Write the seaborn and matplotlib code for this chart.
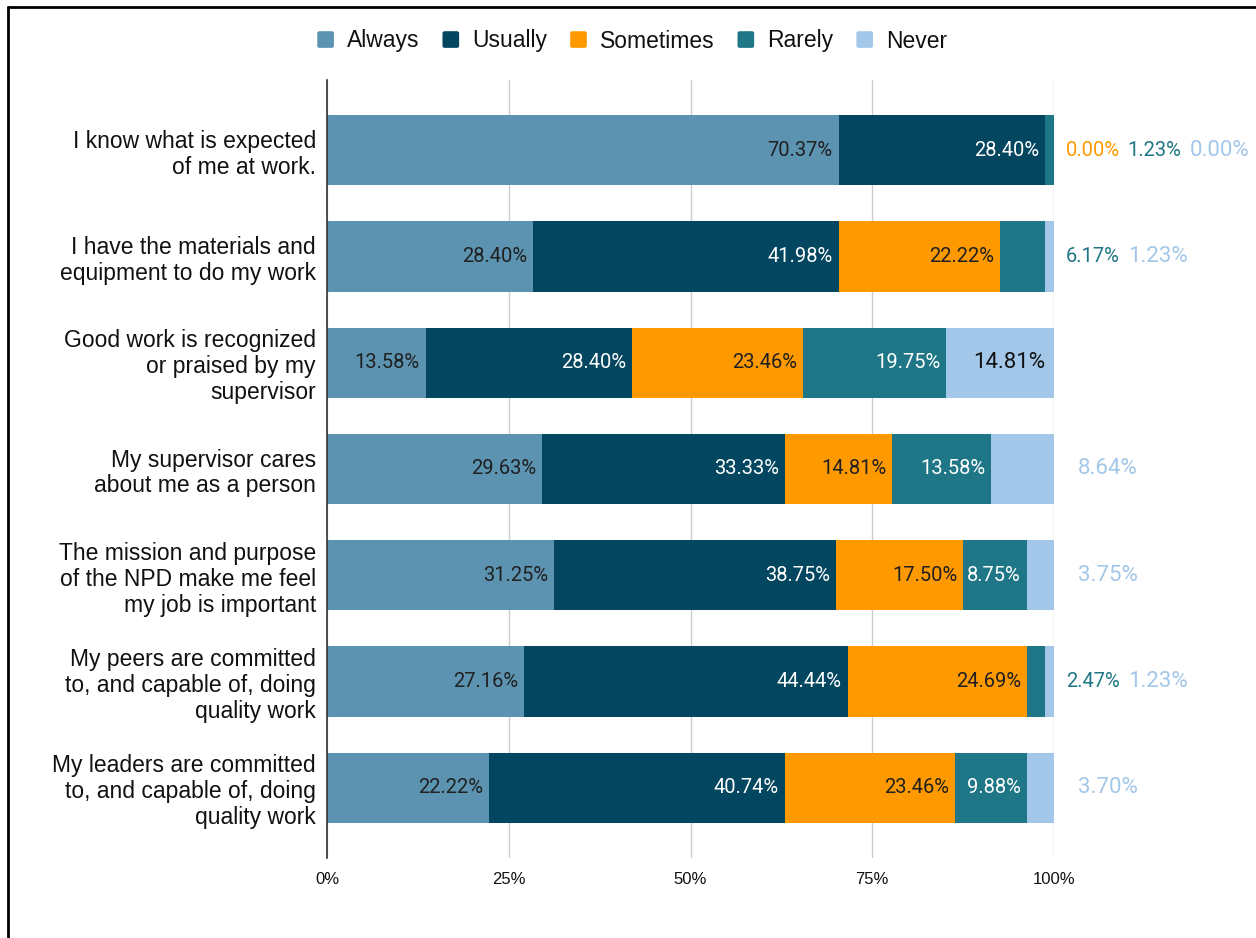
import numpy as np
import pandas as pd
import matplotlib
matplotlib.use("Agg")
import matplotlib.pyplot as plt
from matplotlib.patches import FancyBboxPatch
from matplotlib.lines import Line2D
from matplotlib.legend_handler import HandlerPatch
import seaborn as sns

# ---- survey data (percent of respondents) ----
questions = [
    "I know what is expected\nof me at work.",
    "I have the materials and\nequipment to do my work",
    "Good work is recognized\nor praised by my\nsupervisor",
    "My supervisor cares\nabout me as a person",
    "The mission and purpose\nof the NPD make me feel\nmy job is important",
    "My peers are committed\nto, and capable of, doing\nquality work",
    "My leaders are committed\nto, and capable of, doing\nquality work",
]
responses = ["Always", "Usually", "Sometimes", "Rarely", "Never"]
always = [70.37, 28.40, 13.58, 29.63, 31.25, 27.16, 22.22]
usually = [28.40, 41.98, 28.40, 33.33, 38.75, 44.44, 40.74]
sometimes = [0.00, 22.22, 23.46, 14.81, 17.50, 24.69, 23.46]
rarely = [1.23, 6.17, 19.75, 13.58, 8.75, 2.47, 9.88]
never = [0.00, 1.23, 14.81, 8.64, 3.75, 1.23, 3.70]
tick_values = [0, 25, 50, 75, 100]
tick_labels = ["0%", "25%", "50%", "75%", "100%"]

colors = ["#5b93b1", "#03465f", "#ff9900", "#1e7686", "#a3c7e9"]
inner_text = ["#202020", "white", "#202020", "white", "#111111"]

sns.set_style("white")
plt.rcParams["font.family"] = ["Liberation Sans", "DejaVu Sans"]
plt.rcParams["text.color"] = "#111111"
plt.rcParams["xtick.color"] = "#111111"
plt.rcParams["ytick.color"] = "#111111"

fig = plt.figure(figsize=(12.56, 9.38), dpi=100)
ax = fig.add_axes([327 / 1256, 1 - 858 / 938, 727 / 1256, 778 / 938])

vals = np.array([always, usually, sometimes, rarely, never])
cum = np.cumsum(vals, axis=0)
ends = np.minimum(cum, 100.0)

# stacked bars: draw each cumulative total, widest first
for k in range(len(responses) - 1, -1, -1):
    df = pd.DataFrame({"question": questions, "value": ends[k]})
    sns.barplot(data=df, x="value", y="question", orient="h", color=colors[k],
                saturation=1, width=0.66, errorbar=None, linewidth=0, ax=ax)

ax.set_xlim(0, 100)
ax.set_ylim(6.66, -0.66)
ax.set_xlabel("")
ax.set_ylabel("")
ax.set_xticks(tick_values)
ax.set_xticklabels(tick_labels, family=["Liberation Sans Narrow", "Liberation Sans"], fontsize=12)
ax.tick_params(axis="x", length=0, pad=10, labelcolor="#111111")
ax.tick_params(axis="y", length=0, pad=8, labelcolor="#111111")
for lbl in ax.get_yticklabels():
    lbl.set_fontsize(16.5)
    lbl.set_linespacing(1.16)
    lbl.set_horizontalalignment("right")
    lbl.set_multialignment("right")

ax.grid(axis="x", color="#cccccc", linewidth=1)
ax.grid(axis="y", visible=False)
ax.set_axisbelow(True)
for side in ["top", "right", "bottom"]:
    ax.spines[side].set_visible(False)
ax.spines["left"].set_color("#333333")
ax.spines["left"].set_linewidth(1.2)
ax.spines["left"].set_zorder(5)

label_font = ["Roboto", "DejaVu Sans"]
threshold = 8.7
for i in range(len(questions)):
    outside = [k for k in range(len(responses)) if vals[k, i] < threshold]
    slot = 0
    for k in range(len(responses)):
        v = vals[k, i]
        txt = f"{v:.2f}%"
        if v >= threshold:
            big = k == len(responses) - 1
            ax.text(ends[k, i] - (1.2 if big else 0.8), i, txt, ha="right", va="center",
                    color=inner_text[k], fontsize=16 if big else 14.5,
                    family=label_font, zorder=6)
        else:
            if len(outside) == 1:
                xpos = 103.3
            else:
                xpos = 101.65 + 8.5 * slot
            size = 16 if k == len(responses) - 1 else 14.5
            ax.text(xpos, i, txt, ha="left", va="center", color=colors[k],
                    fontsize=size, family=label_font, clip_on=False, zorder=6)
            slot += 1


class RoundSquare(HandlerPatch):
    def create_artists(self, legend, orig_handle, xdescent, ydescent, width,
                       height, fontsize, trans):
        s = min(width, height) * 0.95
        x0 = -xdescent + (width - s) / 2
        y0 = -ydescent + (height - s) / 2
        p = FancyBboxPatch((x0, y0), s, s, boxstyle="round,pad=0,rounding_size=1.5",
                           facecolor=orig_handle.get_facecolor(), edgecolor="none",
                           transform=trans)
        return [p]


handles = [plt.Rectangle((0, 0), 1, 1, facecolor=c) for c in colors]
fig.legend(handles, responses, loc="center", bbox_to_anchor=(632 / 1256, 1 - 41 / 938),
           ncol=5, frameon=False, fontsize=16.5, handlelength=0.8, handleheight=0.8,
           handletextpad=0.55, columnspacing=0.95, labelcolor="#111111",
           handler_map={plt.Rectangle: RoundSquare()})

# frame lines along the top and left edges
fig.add_artist(Line2D([8 / 1256, 1.0], [1 - 7 / 938, 1 - 7 / 938], color="black",
                      linewidth=2, transform=fig.transFigure))
fig.add_artist(Line2D([8 / 1256, 8 / 1256], [0, 1 - 7 / 938], color="black",
                      linewidth=2, transform=fig.transFigure))

fig.savefig("out.png", dpi=100)
